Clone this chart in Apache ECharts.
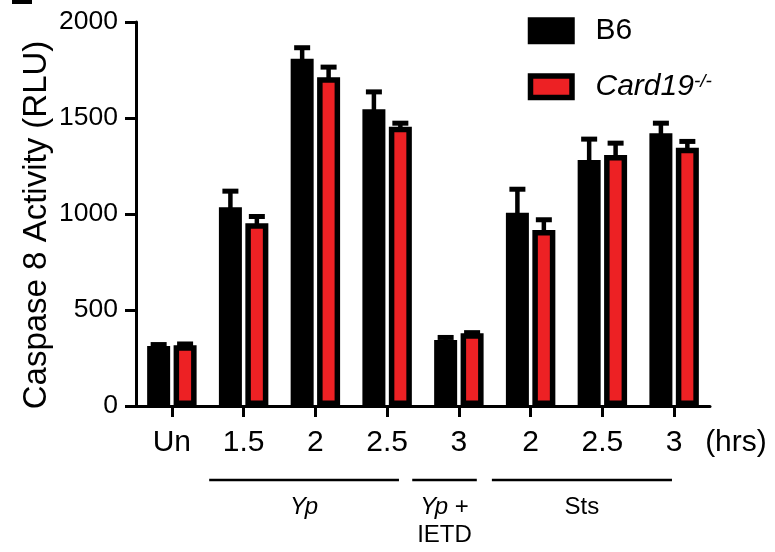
<!DOCTYPE html>
<html>
<head>
<meta charset="utf-8">
<script src="https://cdn.jsdelivr.net/npm/echarts@6/dist/echarts.min.js"></script>
<style>
html,body{margin:0;padding:0;background:#fff;}
#chart{width:775px;height:552px;}
</style>
</head>
<body>
<div id="chart"></div>
<script>
// ---- data ----
const categoryKeys = ['Un', 'Yp 1.5', 'Yp 2', 'Yp 2.5', 'YpIETD 3', 'Sts 2', 'Sts 2.5', 'Sts 3'];
const tickLabels = ['Un', '1.5', '2', '2.5', '3', '2', '2.5', '3'];
const seriesNames = ['B6', 'Card19'];
const b6Values = [312, 1035, 1809, 1545, 344, 1007, 1281, 1420];
const b6Errors = [8, 84, 57, 91, 13, 122, 109, 53];
const cardValues = [316, 952, 1712, 1455, 379, 917, 1307, 1345];
const cardErrors = [7, 35, 53, 18, 3, 53, 62, 33];
const yTicks = [0, 500, 1000, 1500, 2000];
const yTitle = 'Caspase 8 Activity (RLU)';
const groups = [
  { label: '{i|Yp}', from: 1, to: 3, startOff: -0.48, endOff: 0.165 },
  { label: '{i|Yp} +\nIETD', from: 4, to: 4, startOff: -0.65, endOff: 0.25 },
  { label: 'Sts', from: 5, to: 7, startOff: -0.54, endOff: -0.03 }
];

const FONT = '"Liberation Sans", Arial, Helvetica, sans-serif';
const RED = '#ED2124';
const BAR_W = 23;
const BAR_GAP = 0.15;
const BORDER = 5.5;
const halfSpan = (2 * BAR_W + BAR_GAP * BAR_W) / 2;
const offsets = [-halfSpan + BAR_W / 2, halfSpan - BAR_W / 2];

function errSeries(vals, errs, k) {
  return {
    type: 'custom',
    name: seriesNames[k] + ' err',
    z: 5,
    silent: true,
    data: vals.map((v, i) => [i, v, errs[i]]),
    encode: { x: 0, y: 1 },
    renderItem: function (params, api) {
      const idx = api.value(0), v = api.value(1), e = api.value(2);
      const p0 = api.coord([idx, v]);
      const p1 = api.coord([idx, v + e]);
      const x = p0[0] + offsets[k];
      return {
        type: 'group',
        children: [
          { type: 'line', shape: { x1: x, y1: p0[1] + 3, x2: x, y2: p1[1] }, style: { stroke: '#000', lineWidth: 4.5 } },
          { type: 'line', shape: { x1: x - 8, y1: p1[1], x2: x + 8, y2: p1[1] }, style: { stroke: '#000', lineWidth: 5 } }
        ]
      };
    }
  };
}

const chart = echarts.init(document.getElementById('chart'), null, { renderer: 'canvas' });
const option = {
  animation: false,
  backgroundColor: '#fff',
  textStyle: { fontFamily: FONT, color: '#000' },
  grid: { left: 136, right: 65, top: 22, bottom: 146, containLabel: false },
  legend: {
    data: seriesNames,
    orient: 'vertical',
    left: 527.75,
    top: 15.8,
    padding: 0,
    icon: 'rect',
    itemWidth: 41.5,
    itemHeight: 21.5,
    itemGap: 26,
    selectedMode: false,
    itemStyle: { borderColor: '#000', borderWidth: 5.5 },
    formatter: function (name) { return name === 'Card19' ? '{i|Card19}{s|-/-}' : name; },
    textStyle: {
      fontFamily: FONT, fontSize: 30, color: '#000', lineHeight: 30, padding: [0, 0, 0, 18.5],
      rich: {
        i: { fontFamily: FONT, fontSize: 30, fontStyle: 'italic', color: '#000', lineHeight: 30 },
        s: { fontFamily: FONT, fontSize: 19, fontStyle: 'italic', color: '#000', lineHeight: 10, verticalAlign: 'top' }
      }
    }
  },
  xAxis: {
    type: 'category',
    data: categoryKeys,
    axisLine: { lineStyle: { color: '#000', width: 3 } },
    axisTick: { show: true, alignWithLabel: true, interval: 0, length: 11, lineStyle: { color: '#000', width: 3 } },
    axisLabel: {
      interval: 0, margin: 22, fontSize: 30, color: '#000', fontFamily: FONT,
      formatter: function (v, i) { return tickLabels[i]; }
    }
  },
  yAxis: {
    type: 'value',
    min: 0, max: 2000, interval: 500,
    axisLine: { show: true, lineStyle: { color: '#000', width: 3 } },
    axisTick: { show: true, length: 11, lineStyle: { color: '#000', width: 3 } },
    axisLabel: {
      margin: 18, fontSize: 26.5, color: '#000', fontFamily: FONT,
      formatter: function (v) { return yTicks.indexOf(v) >= 0 ? String(v) : ''; }
    },
    splitLine: { show: false }
  },
  series: [
    {
      type: 'bar', name: 'B6', data: b6Values, barWidth: BAR_W, barGap: (BAR_GAP * 100) + '%',
      itemStyle: { color: '#000', borderColor: '#000', borderWidth: BORDER }
    },
    {
      type: 'bar', name: 'Card19', data: cardValues, barWidth: BAR_W,
      itemStyle: { color: RED, borderColor: '#000', borderWidth: BORDER }
    },
    errSeries(b6Values, b6Errors, 0),
    errSeries(cardValues, cardErrors, 1)
  ]
};
chart.setOption(option);

// annotations: group brackets, unit label, y title
const band = chart.convertToPixel({ xAxisIndex: 0 }, 1) - chart.convertToPixel({ xAxisIndex: 0 }, 0);
const lineY = 480;
const gfx = [];
groups.forEach(function (g) {
  const x1 = chart.convertToPixel({ xAxisIndex: 0 }, g.from) + g.startOff * band;
  const x2 = chart.convertToPixel({ xAxisIndex: 0 }, g.to) + g.endOff * band;
  gfx.push({ type: 'line', shape: { x1: x1, y1: lineY, x2: x2, y2: lineY }, style: { stroke: '#000', lineWidth: 2.5 } });
  gfx.push({
    type: 'text', x: (x1 + x2) / 2, y: lineY + 13,
    style: {
      text: g.label, fill: '#000', font: '24px ' + FONT, align: 'center', verticalAlign: 'top', lineHeight: 28,
      rich: { i: { fontStyle: 'italic', fontSize: 24, fontFamily: FONT, fill: '#000', lineHeight: 28 } }
    }
  });
});
const lastX = chart.convertToPixel({ xAxisIndex: 0 }, categoryKeys.length - 1);
gfx.push({ type: 'text', x: lastX + 31, y: 443, style: { text: '(hrs)', fill: '#000', font: '30px ' + FONT, align: 'left', verticalAlign: 'middle' } });
gfx.push({ type: 'text', x: 37, y: 225, rotation: Math.PI / 2, style: { text: yTitle, fill: '#000', font: '33px ' + FONT, align: 'center', verticalAlign: 'middle' } });
// cropped panel-letter fragment in the top-left corner
gfx.push({ type: 'rect', shape: { x: 12, y: 0, width: 20, height: 4 }, style: { fill: '#000' } });
chart.setOption({ graphic: gfx });
</script>
</body>
</html>
